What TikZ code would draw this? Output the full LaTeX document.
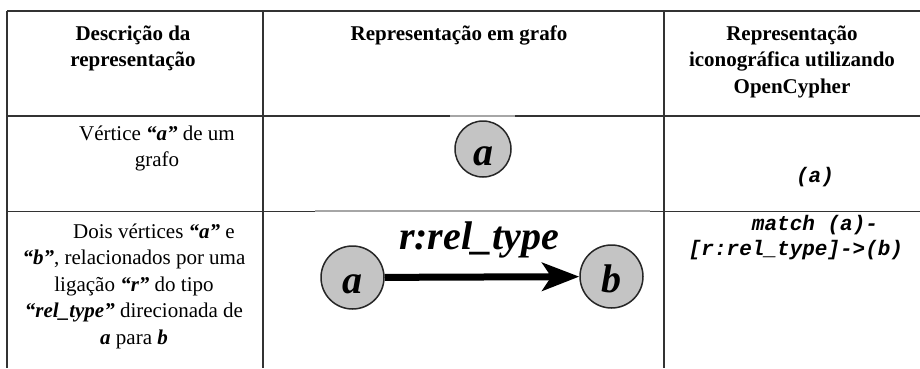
\documentclass[tikz,border=0pt]{standalone}
\usepackage{fontspec}
\setmainfont{Liberation Serif}
\setmonofont{Liberation Mono}
\usetikzlibrary{arrows.meta}
\begin{document}
\begin{tikzpicture}[x=1bp,y=-1bp,
  rule/.style={line width=1.4bp, draw=black!80},
  faint/.style={line width=1.2bp, draw=black!35},
  hdr/.style={font=\fontsize{21bp}{26.5bp}\selectfont\bfseries, align=center, anchor=base, inner sep=0pt},
  body/.style={font=\fontsize{21bp}{26.5bp}\selectfont, align=center, anchor=base, inner sep=0pt},
  code/.style={font=\fontsize{21bp}{25bp}\selectfont\ttfamily\bfseries\itshape, align=center, anchor=base, inner sep=0pt},
  vertex/.style={circle, draw=black!85, line width=1.5bp, fill=black!23, inner sep=0pt, minimum size=63bp, text height=34bp, text depth=2bp, font=\fontsize{40bp}{40bp}\selectfont\bfseries\itshape},
  lbl/.style={font=\fontsize{40bp}{40bp}\selectfont\bfseries\itshape, inner sep=0pt, anchor=base},
  ]
\useasboundingbox (0,0) rectangle (920,368);
% table rules
\draw[rule] (7,11) -- (920,11);
\draw[rule] (7,11) -- (7,368);
\draw[rule] (263,11) -- (263,368);
\draw[rule] (664,11) -- (664,368);
\draw[rule] (7,116) -- (450,116);
\draw[faint] (450,116) -- (515,116);
\draw[rule] (515,116) -- (920,116);
\draw[rule] (7,211.5) -- (315,211.5);
\draw[faint] (315,211) -- (650,211);
\draw[rule] (650,211.5) -- (920,211.5);
% header (anchor base = baseline of last line)
\node[hdr] (h1) at (133,66.5) {Descrição da\\representação};
\node[hdr] (h2) at (459,40) {Representação em grafo};
\node[hdr] (h3) at (792,93) {Representação\\iconográfica utilizando\\OpenCypher};
% row 1
\node[body] (d1) at (157,166.5) {Vértice \textbf{\textit{“a”}} de um\\grafo};
\node[vertex, minimum size=56bp] (a1) at (483,149) {a};
\node[code] (c1) at (815,182) {(a)};
% row 2
\node[body] (d2) at (134,344) {\hspace*{40bp}Dois vértices \textbf{\textit{“a”}} e\\\textbf{\textit{“b”}}, relacionados por uma\\ligação \textbf{\textit{“r”}} do tipo\\\textbf{\textit{“rel\_type”}} direcionada de\\\textbf{\textit{a}} para \textbf{\textit{b}}};
\node[vertex] (a2) at (352.5,277.5) {a};
\node[vertex] (b2) at (611.5,276.5) {b};
\draw[line width=7bp, -{Stealth[length=37bp,width=28bp,inset=9bp]}] (a2) -- (b2)
  node[midway, lbl, yshift=28bp, xshift=-3bp] (r) {r:rel\_type};
\node[code] (c2) at (796,255) {\hspace*{38bp}match (a)-\\{[}r:rel\_type{]}->(b)};
\end{tikzpicture}
\end{document}
